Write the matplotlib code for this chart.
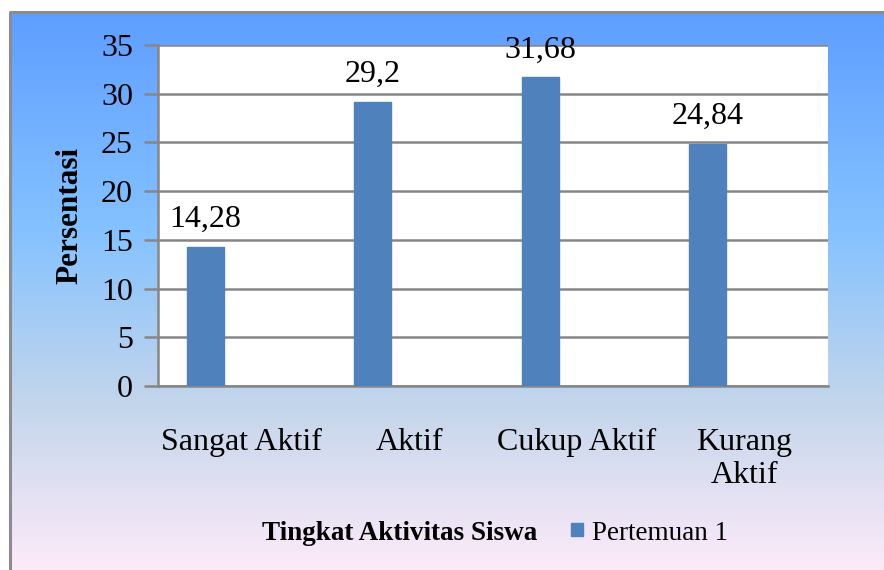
import numpy as np
import matplotlib
matplotlib.use("Agg")
import matplotlib.pyplot as plt
from matplotlib.colors import LinearSegmentedColormap
from matplotlib.patches import Rectangle

categories = ["Sangat Aktif", "Aktif", "Cukup Aktif", "Kurang\nAktif"]
values = [14.28, 29.2, 31.68, 24.84]
value_labels = ["14,28", "29,2", "31,68", "24,84"]
series_name = "Pertemuan 1"
yticks = [0, 5, 10, 15, 20, 25, 30, 35]

plt.rcParams['font.family'] = ['Liberation Serif', 'DejaVu Serif']

W, H = 884, 570
fig = plt.figure(figsize=(W / 100, H / 100), dpi=100)
fig.patch.set_facecolor("white")

# gradient background frame
bg = fig.add_axes([0, 0, 1, 1], zorder=0)
bg.set_xlim(0, W)
bg.set_ylim(H, 0)
bg.axis("off")
cmap = LinearSegmentedColormap.from_list(
    "daybreak",
    [(0.0, "#5E9EFF"), (0.39, "#85C2FF"), (0.70, "#C4D6EB"), (1.0, "#FFEBFA")])
grad = np.linspace(0, 1, 256).reshape(-1, 1)
bg.imshow(grad, cmap=cmap, aspect="auto", extent=[10, W + 5, H + 5, 12], zorder=0)
bg.plot([10, 10, W + 5], [H + 5, 12, 12], color="#8C8C8C", lw=2.2, zorder=1,
        solid_capstyle="butt")

# plot axes
left, right = 158 / W, 828 / W
bottom, top = 1 - 386 / H, 1 - 45 / H
ax = fig.add_axes([left, bottom, right - left, top - bottom], zorder=2)
ax.set_facecolor("white")
ax.set_xlim(0, 4)
ax.set_ylim(0, 35)

x = np.arange(len(categories)) + 0.282
bars = ax.bar(x, values, width=0.223, color="#4F81BD", edgecolor="#4F81BD",
              zorder=3, label=series_name)
for xi, v, lab in zip(x, values, value_labels):
    ax.text(xi, v + 1.3, lab, ha="center", va="bottom", fontsize=23, zorder=4)

ax.set_yticks(yticks)
ax.set_yticklabels([str(t) for t in yticks], fontsize=23)
ax.yaxis.grid(True, color="#868686", lw=1.8, zorder=1)
ax.set_axisbelow(True)
ax.tick_params(axis="y", length=10, width=1.8, color="#868686", pad=8)
ax.set_xticks(np.arange(len(categories)) + 0.5)
ax.set_xticklabels(categories, fontsize=23, linespacing=1.2)
ax.tick_params(axis="x", length=0, pad=30)
for s in ["top", "right"]:
    ax.spines[s].set_visible(False)
ax.spines["left"].set_color("#868686")
ax.spines["left"].set_linewidth(1.8)
ax.spines["bottom"].set_color("#868686")
ax.spines["bottom"].set_linewidth(1.8)

ax.set_ylabel("Persentasi", fontsize=22.5, fontweight="bold", labelpad=12)

# x-axis title and legend
fig.text(400 / W, 1 - 533 / H, "Tingkat Aktivitas Siswa", ha="center", va="center",
         fontsize=19.5, fontweight="bold")
bg.add_patch(Rectangle((571, 523), 12, 13, color="#4F81BD", zorder=2))
bg.text(592, 533, series_name, ha="left", va="center", fontsize=19.5, zorder=2)

fig.savefig("out.png", dpi=100, facecolor="white")
